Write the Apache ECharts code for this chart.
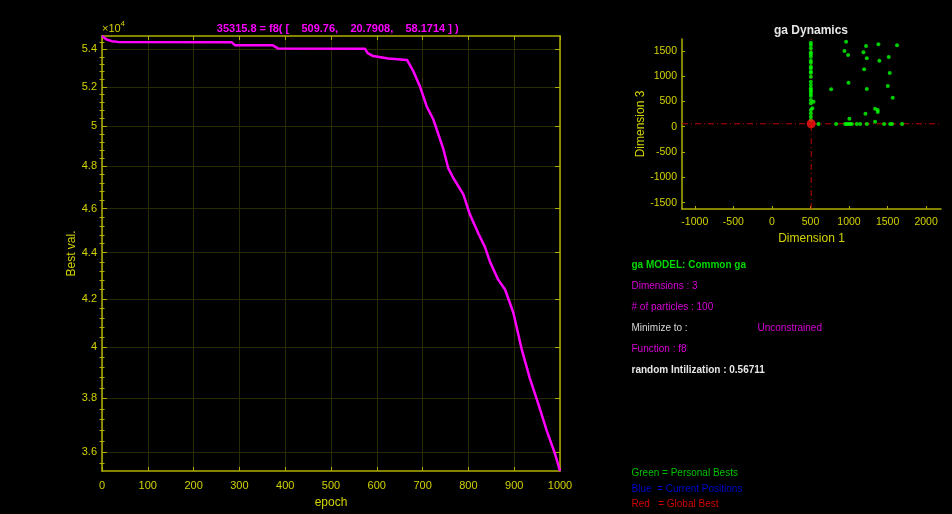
<!DOCTYPE html>
<html>
<head>
<meta charset="utf-8">
<script src="https://cdn.jsdelivr.net/npm/echarts@6/dist/echarts.min.js"></script>
<style>
  html, body { margin:0; padding:0; background:#000; }
  #chart { width:952px; height:514px; }
</style>
</head>
<body>
<div id="chart"></div>
<script>
// ---- Best value curve (left panel) ----
const epochs = [0, 4, 10, 21, 35, 283, 290, 373, 384, 574, 580, 592, 625, 666, 680, 694, 709, 723, 734, 745, 756, 767, 789, 803, 822, 836, 847, 865, 880, 898, 916, 934, 953, 971, 989, 1000];
const bestVals = [54733, 54640, 54540, 54450, 54410, 54395, 54230, 54220, 54054, 54040, 53800, 53640, 53510, 53430, 52814, 52034, 50983, 50345, 49602, 48868, 47910, 47438, 46659, 45744, 44847, 44259, 43606, 42822, 42400, 41429, 39951, 38779, 37768, 36782, 35942, 35315.8];
const epochTicksMax = 1000;
const bestValTicks = [36000, 38000, 40000, 42000, 44000, 46000, 48000, 50000, 52000, 54000];

// ---- ga Dynamics (right panel): Dimension 1 vs Dimension 3 ----
const pbDim1 = [505,505,505,505,505,505,505,505,505,505,505,505,505,505,505,505,505,505,505,505,505,540,505,524,505,505,505,505,
  962,1221,1381,1623,941,988,1187,1231,1515,1394,1196,1528,993,768,1231,1503,1567,1213,1338,1373,1373,1005,1338,
  604,833,950,972,993,1015,1036,1101,1144,1231,1455,1533,1558,1688];
const pbDim3 = [1660,1615,1549,1470,1431,1383,1304,1265,1186,1154,1087,1067,988,889,824,759,725,692,646,607,528,494,462,364,330,265,198,132,
  1680,1595,1628,1608,1496,1417,1470,1351,1377,1304,1134,1061,870,739,745,804,573,257,356,330,290,158,99,
  55,55,55,55,55,55,55,55,55,55,55,55,55,55];
const globalBest = [509.76, 20.7908, 58.1714];
const bestValue = 35315.8;
const dim1Range = [-1166, 2193];
const dim3Range = [-1626, 1733];
const dim1Ticks = [-1000, -500, 0, 500, 1000, 1500, 2000];
const dim3Ticks = [-1500, -1000, -500, 0, 500, 1000, 1500];

// minor ticks on the log axis (every 400)
const minorTicks = [];
for (let v = 35600; v <= 54800; v += 400) { if (v % 2000 !== 0) minorTicks.push(v); }

const Y = '#d2d200', YL = '#b0b000', GR = '#2a2a00';
const FONT = '"Liberation Sans", Arial, sans-serif';

const chart = echarts.init(document.getElementById('chart'), null, {renderer:'canvas'});

const lineData = epochs.map((e, i) => [e, bestVals[i]]);
const pbData = pbDim1.map((x, i) => [x, pbDim3[i]]);

function yTick(len){ return {show:true, inside:true, length:len, lineStyle:{color:YL, width:1}}; }
const plain = v => String(v);

const option = {
  backgroundColor:'#000',
  animation:false,
  textStyle:{fontFamily:FONT},
  grid:[
    {left:102, top:36, width:458, height:440},
    {left:682, top:39, width:259, height:170}
  ],
  xAxis:[
    {gridIndex:0, type:'value', min:0, max:epochTicksMax, interval:100, position:'bottom',
     name:'epoch', nameLocation:'middle', nameGap:26, nameTextStyle:{color:Y, fontSize:12},
     axisLine:{onZero:false, lineStyle:{color:YL, width:1.5}},
     axisTick:{inside:true, length:4, lineStyle:{color:YL}},
     axisLabel:{color:Y, fontSize:11, margin:9, formatter:plain},
     splitLine:{show:true, lineStyle:{color:GR, width:1}}},
    {gridIndex:0, type:'value', min:0, max:epochTicksMax, interval:100, position:'top',
     axisLine:{onZero:false, lineStyle:{color:YL, width:1.5}},
     axisTick:{inside:true, length:4, lineStyle:{color:YL}},
     axisLabel:{show:false}, splitLine:{show:false}},
    {gridIndex:1, type:'value', min:dim1Range[0], max:dim1Range[1], position:'bottom',
     name:'Dimension 1', nameLocation:'middle', nameGap:24, nameTextStyle:{color:Y, fontSize:12},
     axisLine:{onZero:false, lineStyle:{color:YL, width:1.5}},
     axisTick:{inside:true, length:3, customValues:dim1Ticks, lineStyle:{color:YL}},
     axisLabel:{color:Y, fontSize:10.5, margin:8, customValues:dim1Ticks, formatter:plain},
     splitLine:{show:false}}
  ],
  yAxis:[
    {gridIndex:0, type:'log', logBase:10, min:Math.min(...bestVals), max:Math.max(...bestVals), position:'left',
     name:'Best val.', nameLocation:'middle', nameGap:22, nameTextStyle:{color:Y, fontSize:12},
     axisLine:{onZero:false, lineStyle:{color:YL, width:1.5}},
     axisTick:Object.assign(yTick(5), {customValues:bestValTicks}),
     axisLabel:{color:Y, fontSize:11, margin:5, customValues:bestValTicks,
       formatter:v => String(+(v/1e4).toFixed(2))},
     splitLine:{show:true, lineStyle:{color:GR, width:1}}},
    {gridIndex:0, type:'log', logBase:10, min:Math.min(...bestVals), max:Math.max(...bestVals), position:'right',
     axisLine:{onZero:false, lineStyle:{color:YL, width:1.5}},
     axisTick:Object.assign(yTick(5), {customValues:bestValTicks}),
     axisLabel:{show:false, customValues:bestValTicks}, splitLine:{show:false}},
    {gridIndex:0, type:'log', logBase:10, min:Math.min(...bestVals), max:Math.max(...bestVals), position:'left',
     axisLine:{show:false},
     axisTick:Object.assign(yTick(2.5), {customValues:minorTicks}),
     axisLabel:{show:false, customValues:minorTicks}, splitLine:{show:false}},
    {gridIndex:0, type:'log', logBase:10, min:Math.min(...bestVals), max:Math.max(...bestVals), position:'right',
     axisLine:{show:false},
     axisTick:Object.assign(yTick(2.5), {customValues:minorTicks}),
     axisLabel:{show:false, customValues:minorTicks}, splitLine:{show:false}},
    {gridIndex:1, type:'value', min:dim3Range[0], max:dim3Range[1], position:'left',
     name:'Dimension 3', nameLocation:'middle', nameGap:34, nameTextStyle:{color:Y, fontSize:12},
     axisLine:{onZero:false, lineStyle:{color:YL, width:1.5}},
     axisTick:{inside:true, length:3, customValues:dim3Ticks, lineStyle:{color:YL}},
     axisLabel:{color:Y, fontSize:10.5, margin:5, customValues:dim3Ticks, formatter:plain},
     splitLine:{show:false}}
  ],
  series:[
    {type:'line', xAxisIndex:0, yAxisIndex:0, data:lineData, showSymbol:false, symbol:'none',
     lineStyle:{color:'#ff00ff', width:2.5}, z:5},
    {type:'line', xAxisIndex:2, yAxisIndex:4, data:[[dim1Range[0], globalBest[2]],[dim1Range[1], globalBest[2]]],
     symbol:'none', lineStyle:{color:'#c00000', width:1, type:[6,3,1,3]}, z:2},
    {type:'line', xAxisIndex:2, yAxisIndex:4, data:[[globalBest[0], dim3Range[0]],[globalBest[0], dim3Range[1]]],
     symbol:'none', lineStyle:{color:'#c00000', width:1, type:[6,3,1,3]}, z:2},
    {type:'scatter', xAxisIndex:2, yAxisIndex:4, data:pbData, symbol:'circle', symbolSize:4,
     itemStyle:{color:'#00ff00'}, z:3},
    {type:'scatter', xAxisIndex:2, yAxisIndex:4, data:[[globalBest[0], globalBest[2]]], symbol:'circle', symbolSize:9,
     itemStyle:{color:'#ff1010'}, z:4}
  ],
  graphic:[
    {type:'text', x:337.7, y:28.5, style:{text:bestValue + ' = f8( [    ' + globalBest[0] + ',    ' + globalBest[1] + ',    ' + globalBest[2] + ' ] )',
      fill:'#ff00ff', font:'bold 11px ' + FONT, align:'center', verticalAlign:'middle'}},
    {type:'text', x:102, y:29, style:{text:'×10', fill:Y, font:'11px ' + FONT, align:'left', verticalAlign:'middle'}},
    {type:'text', x:120.5, y:24, style:{text:'4', fill:Y, font:'8px ' + FONT, align:'left', verticalAlign:'middle'}},
    {type:'text', x:811, y:31, style:{text:'ga Dynamics', fill:'#e6e6e6', font:'bold 12px ' + FONT, align:'center', verticalAlign:'middle'}},
    {type:'text', x:631.5, y:265, style:{text:'ga MODEL: Common ga', fill:'#00d800', font:'bold 10px ' + FONT, align:'left', verticalAlign:'middle'}},
    {type:'text', x:631.5, y:286, style:{text:'Dimensions : 3', fill:'#d800d8', font:'10px ' + FONT, align:'left', verticalAlign:'middle'}},
    {type:'text', x:631.5, y:307, style:{text:'# of particles : 100', fill:'#d800d8', font:'10px ' + FONT, align:'left', verticalAlign:'middle'}},
    {type:'text', x:631.5, y:328.5, style:{text:'Minimize to :', fill:'#d6d6d6', font:'10px ' + FONT, align:'left', verticalAlign:'middle'}},
    {type:'text', x:757.5, y:328.5, style:{text:'Unconstrained', fill:'#d800d8', font:'10px ' + FONT, align:'left', verticalAlign:'middle'}},
    {type:'text', x:631.5, y:349.5, style:{text:'Function : f8', fill:'#d800d8', font:'10px ' + FONT, align:'left', verticalAlign:'middle'}},
    {type:'text', x:631.5, y:370, style:{text:'random Intilization : 0.56711', fill:'#e6e6e6', font:'bold 10px ' + FONT, align:'left', verticalAlign:'middle'}},
    {type:'text', x:631.5, y:473.5, style:{text:'Green = Personal Bests', fill:'#00c000', font:'10px ' + FONT, align:'left', verticalAlign:'middle'}},
    {type:'text', x:631.5, y:489, style:{text:'Blue  = Current Positions', fill:'#0000d0', font:'10px ' + FONT, align:'left', verticalAlign:'middle'}},
    {type:'text', x:631.5, y:504.5, style:{text:'Red   = Global Best', fill:'#d00000', font:'10px ' + FONT, align:'left', verticalAlign:'middle'}}
  ]
};
chart.setOption(option);
</script>
</body>
</html>
